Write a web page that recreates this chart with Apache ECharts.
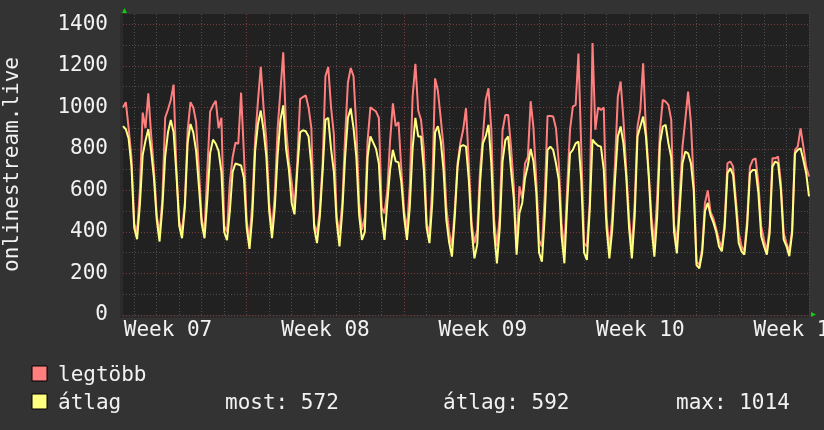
<!DOCTYPE html>
<html><head><meta charset="utf-8">
<script src="https://cdn.jsdelivr.net/npm/echarts@6/dist/echarts.min.js"></script>
<style>html,body{margin:0;padding:0;background:#333333;}#c{width:824px;height:430px;}</style>
</head><body><div id="c"></div>
<script>
// ---- data (3-hour samples, first sample 12:00 the day before day 0) ----
const weekLabels = ['Week 07', 'Week 08', 'Week 09', 'Week 10', 'Week 11'];
const legendNames = ['legtöbb', 'átlag'];
const statLabels = ['most: 572', 'átlag: 592', 'max: 1014'];
const yTicks = [0, 200, 400, 600, 800, 1000, 1200, 1400];
const axisTitle = 'onlinestream.live';

// legtöbb (max)
const maxValues = [
  1000, 1025, 900, 760,
  440, 400, 600, 975, 900, 1068, 870, 700,
  480, 394, 560, 950, 990, 1036, 1110, 700,
  450, 405, 540, 890, 1025, 1000, 930, 700,
  460, 405, 700, 980, 1010, 1032, 900, 950,
  430, 400, 640, 760, 830, 825, 1071, 780,
  450, 365, 540, 845, 1030, 1195, 1000, 840,
  540, 410, 580, 900, 1080, 1265, 900, 740,
  640, 510, 740, 1040, 1050, 1058, 1000, 900,
  440, 394, 506, 730, 1150, 1195, 1000, 870,
  470, 394, 540, 860, 1120, 1190, 1150, 900,
  540, 410, 470, 840, 1000, 990, 980, 950,
  520, 490, 600, 840, 1020, 910, 930, 700,
  500, 410, 620, 1050, 1210, 985, 940, 800,
  440, 394, 620, 1140, 1080, 950, 810, 520,
  400, 330, 506, 731, 830, 892, 996, 731,
  442, 346, 410, 699, 860, 1036, 1092, 892,
  460, 330, 480, 890, 964, 964, 811, 620,
  320, 620, 560, 730, 760, 1030, 900, 650,
  360, 330, 570, 959, 959, 956, 900, 731,
  440, 314, 619, 892, 1004, 1012, 1260, 800,
  346, 330, 538, 1310, 892, 1000, 988, 1000,
  470, 314, 474, 731, 1052, 1125, 940, 699,
  470, 314, 538, 908, 988, 1213, 892, 683,
  470, 346, 570, 892, 1036, 1028, 1012, 940,
  440, 346, 570, 811, 940, 1076, 924, 640,
  255, 243, 320, 540, 600, 495, 465, 415,
  360, 323, 450, 731, 739, 715, 555, 395,
  331, 307, 459, 715, 747, 755, 635, 427,
  363, 307, 427, 755, 755, 763, 635, 395,
  347, 307, 411, 795, 811, 899, 811, 715,
  667
];
// átlag (average)
const avgValues = [
  910, 895, 850, 720,
  420, 365, 530, 770, 840, 895, 790, 660,
  460, 354, 520, 763, 880, 940, 880, 680,
  430, 370, 520, 830, 920, 880, 790, 620,
  440, 370, 560, 780, 845, 825, 790, 690,
  400, 360, 500, 690, 730, 725, 720, 660,
  420, 318, 480, 790, 920, 985, 890, 760,
  500, 370, 520, 770, 940, 1010, 800, 700,
  540, 485, 700, 880, 890, 885, 860, 720,
  420, 346, 474, 690, 940, 950, 800, 690,
  450, 330, 500, 760, 950, 995, 900, 760,
  480, 362, 400, 760, 860, 830, 800, 730,
  470, 362, 540, 700, 795, 740, 735, 640,
  470, 362, 520, 800, 950, 860, 860, 700,
  420, 346, 540, 880, 910, 840, 700, 460,
  350, 281, 474, 715, 811, 819, 811, 651,
  410, 273, 340, 635, 827, 860, 916, 731,
  400, 249, 420, 740, 843, 860, 700, 560,
  290, 490, 540, 660, 720, 800, 740, 590,
  300, 257, 474, 795, 811, 795, 731, 651,
  380, 249, 538, 779, 795, 827, 835, 650,
  300, 265, 506, 845, 827, 815, 811, 700,
  420, 273, 410, 651, 860, 908, 827, 667,
  420, 273, 474, 860, 908, 956, 860, 667,
  420, 281, 474, 827, 908, 916, 827, 760,
  400, 297, 506, 731, 787, 779, 731, 600,
  240, 225, 300, 500, 540, 480, 445, 400,
  330, 307, 420, 683, 707, 675, 523, 347,
  307, 291, 427, 683, 699, 699, 587, 379,
  331, 291, 395, 715, 739, 731, 603, 363,
  331, 283, 395, 779, 795, 803, 747, 683,
  572
];

const STEP_H = 3, START_H = 12;
const hourOf = i => START_H + STEP_H * i;
const dayOf = i => Math.floor(hourOf(i) / 24) - 1;
const categories = avgValues.map((_, i) => 'D' + dayOf(i) + ' ' + (hourOf(i) % 24) + ':00');

const FONT = 'DejaVu Sans Mono';
const TXT = '#f2f2f2';
const MINOR = '#4d4d4d', MAJOR = '#7c3a3a';
const xLineColors = [MINOR, MINOR, MINOR, MINOR, MINOR, MAJOR, MINOR];
const LEG_FONT = '21px "DejaVu Sans Mono"';

const chart = echarts.init(document.getElementById('c'), null, {renderer: 'canvas'});
chart.setOption({
  backgroundColor: '#333333',
  animation: false,
  textStyle: {fontFamily: FONT},
  grid: {left: 123, right: 15, top: 14, bottom: 115, show: true, backgroundColor: '#212121', borderWidth: 0, containLabel: false, outerBoundsMode: 'none'},
  xAxis: {
    type: 'category', data: categories, boundaryGap: false,
    axisLine: {show: false}, axisTick: {show: false},
    axisLabel: {
      interval: idx => hourOf(idx) % 24 === 12 && dayOf(idx) % 7 === 1,
      formatter: (v, idx) => weekLabels[(dayOf(idx) - 1) / 7],
      color: TXT, fontFamily: FONT, fontSize: 21, margin: 5
    },
    splitLine: {show: true, interval: idx => hourOf(idx) % 24 === 0,
      lineStyle: {color: xLineColors, width: 1, type: [1, 2]}}
  },
  yAxis: {
    type: 'value', min: 0, max: 1450, interval: 100,
    name: axisTitle, nameLocation: 'middle', nameGap: 100,
    nameTextStyle: {color: TXT, fontFamily: FONT, fontSize: 21},
    axisLine: {show: false}, axisTick: {show: false},
    axisLabel: {color: TXT, fontFamily: FONT, fontSize: 21, margin: 15,
      formatter: v => (yTicks.indexOf(v) >= 0 ? String(v) : '')},
    splitLine: {show: true, showMaxLine: false, lineStyle: {color: [MAJOR, MINOR], width: 1, type: [1, 2]}}
  },
  series: [
    {name: legendNames[0], type: 'line', data: maxValues, showSymbol: false, symbol: 'none',
     lineStyle: {color: '#ff7f7f', width: 2}, itemStyle: {color: '#ff7f7f'}, z: 2},
    {name: legendNames[1], type: 'line', data: avgValues, showSymbol: false, symbol: 'none',
     lineStyle: {color: '#ffff80', width: 2}, itemStyle: {color: '#ffff80'}, z: 3}
  ],
  graphic: [
    {type: 'rect', shape: {x: 120, y: 14, width: 3, height: 304}, style: {fill: '#2b2b2b'}, z: -1},
    {type: 'rect', shape: {x: 120, y: 315, width: 689, height: 3}, style: {fill: '#2b2b2b'}, z: -1},
    {type: 'polygon', shape: {points: [[122, 13], [127, 13], [124.5, 8]]}, style: {fill: '#11cc11'}},
    {type: 'polygon', shape: {points: [[811, 312], [811, 317], [816, 314.5]]}, style: {fill: '#11cc11'}},
    {type: 'rect', shape: {x: 32, y: 366, width: 15, height: 15}, style: {fill: '#ff7f7f', stroke: '#000', lineWidth: 1}},
    {type: 'rect', shape: {x: 32, y: 394, width: 15, height: 15}, style: {fill: '#ffff80', stroke: '#000', lineWidth: 1}},
    {type: 'text', x: 58, y: 376, style: {text: legendNames[0], fill: TXT, font: LEG_FONT, verticalAlign: 'middle'}},
    {type: 'text', x: 58, y: 404, style: {text: legendNames[1], fill: TXT, font: LEG_FONT, verticalAlign: 'middle'}},
    {type: 'text', x: 225, y: 404, style: {text: statLabels[0], fill: TXT, font: LEG_FONT, verticalAlign: 'middle'}},
    {type: 'text', x: 443, y: 404, style: {text: statLabels[1], fill: TXT, font: LEG_FONT, verticalAlign: 'middle'}},
    {type: 'text', x: 676, y: 404, style: {text: statLabels[2], fill: TXT, font: LEG_FONT, verticalAlign: 'middle'}}
  ]
});
</script></body></html>
